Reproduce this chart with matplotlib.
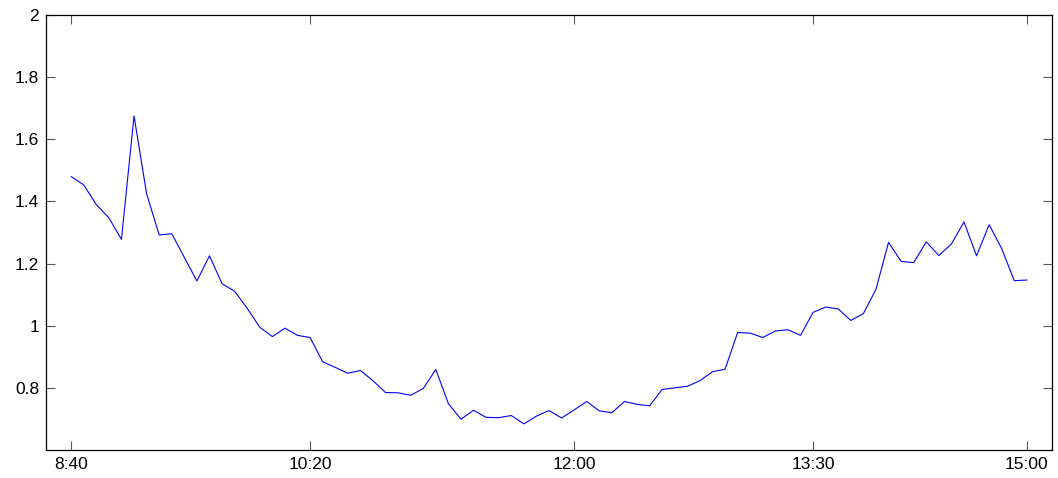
import numpy as np
import matplotlib
matplotlib.use("Agg")
import matplotlib.pyplot as plt

# values, one per 5-min step
vals = [1.480, 1.453, 1.390, 1.347, 1.278, 1.675, 1.425, 1.292, 1.296, 1.220,
        1.144, 1.225, 1.135, 1.111, 1.056, 0.995, 0.965, 0.992, 0.969, 0.962,
        0.884, 0.866, 0.847, 0.856, 0.823, 0.785, 0.784, 0.776, 0.798, 0.859,
        0.749, 0.699, 0.728, 0.705, 0.704, 0.711, 0.684, 0.709, 0.727, 0.703,
        0.729, 0.756, 0.726, 0.720, 0.756, 0.747, 0.742, 0.795, 0.800, 0.805,
        0.823, 0.852, 0.860, 0.978, 0.976, 0.962, 0.983, 0.987, 0.969, 1.043,
        1.060, 1.054, 1.017, 1.039, 1.117, 1.268, 1.207, 1.203, 1.270, 1.226,
        1.263, 1.334, 1.225, 1.325, 1.248, 1.145, 1.147]
xtick_pos = [0, 19, 40, 59, 76]
xtick_labels = ["8:40", "10:20", "12:00", "13:30", "15:00"]
ytick_pos = [0.8, 1.0, 1.2, 1.4, 1.6, 1.8, 2.0]
ytick_labels = ["0.8", "1", "1.2", "1.4", "1.6", "1.8", "2"]

plt.rcParams["font.family"] = ["Liberation Sans", "DejaVu Sans"]

fig = plt.figure(figsize=(10.58, 4.78), dpi=100)
ax = fig.add_axes([46/1058, 1-450/478, (1052-46)/1058, (450-15)/478])

x = np.arange(len(vals))
ax.plot(x, vals, color="#0000ff", linewidth=0.8)

ax.set_xlim(-2, 78)
ax.set_ylim(0.6, 2)
ax.set_xticks(xtick_pos)
ax.set_xticklabels(xtick_labels)
ax.set_yticks(ytick_pos)
ax.set_yticklabels(ytick_labels)

ax.tick_params(direction="in", length=6.5, width=0.8, color="#555555",
               top=True, right=True, labelsize=12.5, pad=5)
for s in ax.spines.values():
    s.set_linewidth(0.9)

fig.savefig("out.png", dpi=100)
